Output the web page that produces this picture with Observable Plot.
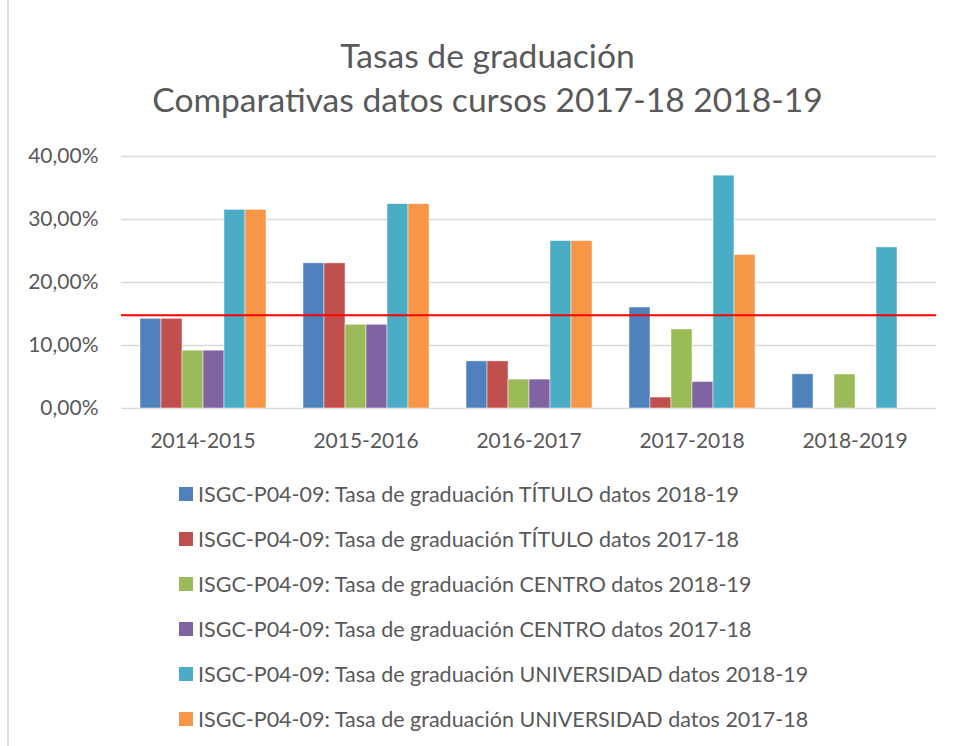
<!DOCTYPE html>
<html>
<head>
<meta charset="utf-8">
<script src="https://cdn.jsdelivr.net/npm/d3@7"></script>
<script src="https://cdn.jsdelivr.net/npm/@observablehq/plot@0.6"></script>
<style>
  html, body { margin: 0; padding: 0; background: #fff; }
  #page { position: relative; width: 953px; height: 746px; overflow: hidden; font-family: Lato, "Open Sans", sans-serif; color: #595959; }
  #border { position: absolute; left: 7px; top: 0; width: 2px; height: 746px; background: #dcdcdc; }
  #title { position: absolute; left: 0; top: 33px; width: 975px; text-align: center; font-size: 33.6px; line-height: 44.4px; }
  #chart { position: absolute; left: 0; top: 130px; }
  #legend { position: absolute; left: 0; top: 0; }
  .row { position: absolute; left: 179px; height: 24px; display: flex; align-items: center; font-size: 21.5px; white-space: nowrap; }
  .sw { width: 14px; height: 14px; margin-right: 5px; flex: none; }
</style>
</head>
<body>
<div id="page">
  <div id="border"></div>
  <div id="title"></div>
  <div id="chart"></div>
  <div id="legend"></div>
</div>
<script>
const titleLines = ["Tasas de graduación", "Comparativas datos cursos 2017-18 2018-19"];
const categories = ["2014-2015", "2015-2016", "2016-2017", "2017-2018", "2018-2019"];
const seriesNames = [
  "ISGC-P04-09: Tasa de graduación TÍTULO datos 2018-19",
  "ISGC-P04-09: Tasa de graduación TÍTULO datos 2017-18",
  "ISGC-P04-09: Tasa de graduación CENTRO datos 2018-19",
  "ISGC-P04-09: Tasa de graduación CENTRO datos 2017-18",
  "ISGC-P04-09: Tasa de graduación UNIVERSIDAD datos 2018-19",
  "ISGC-P04-09: Tasa de graduación UNIVERSIDAD datos 2017-18"
];
const seriesColors = ["#4f81bd", "#c0504d", "#9bbb59", "#8064a2", "#4bacc6", "#f79646"];
const tituloDatos1819 = [14.24, 23.04, 7.48, 16.03, 5.43];
const tituloDatos1718 = [14.24, 23.04, 7.48, 1.74, null];
const centroDatos1819 = [9.18, 13.29, 4.59, 12.55, 5.40];
const centroDatos1718 = [9.18, 13.29, 4.59, 4.20, null];
const univDatos1819 = [31.53, 32.44, 26.58, 36.96, 25.57];
const univDatos1718 = [31.53, 32.44, 26.58, 24.37, null];
const referenceLine = [14.8];
const yTicks = [0, 10, 20, 30, 40];

const seriesValues = [tituloDatos1819, tituloDatos1718, centroDatos1819, centroDatos1718, univDatos1819, univDatos1718];
const rows = categories.flatMap((cat, i) =>
  seriesNames.map((s, j) => ({cat, series: s, value: seriesValues[j][i]}))
).filter(d => d.value != null);

document.getElementById("title").innerHTML = titleLines.map(t => `<div>${t}</div>`).join("");

const fmt = d => d.toFixed(2).replace(".", ",") + "%";

const chart = Plot.plot({
  width: 953,
  height: 330,
  marginTop: 26,
  marginBottom: 52,
  marginLeft: 119,
  marginRight: 15,
  style: {fontFamily: "Lato, 'Open Sans', sans-serif", fontSize: "21px", color: "#595959", background: "transparent"},
  facet: {data: rows, x: "cat"},
  fx: {domain: categories, padding: 0, label: null, tickSize: 0, tickPadding: 25, axis: "bottom"},
  x: {domain: seriesNames, paddingInner: 0, paddingOuter: 0.73, axis: null},
  y: {domain: [0, 40], ticks: yTicks, tickFormat: fmt, label: null, tickSize: 0, tickPadding: 23},
  color: {domain: seriesNames, range: seriesColors},
  marks: [
    Plot.ruleY(yTicks, {stroke: "#d9d9d9", strokeWidth: 1.3}),
    Plot.barY(rows, {x: "series", y: "value", fill: "series", stroke: "#ffffff", strokeOpacity: 0.6, strokeWidth: 0.8}),
    Plot.ruleY(referenceLine, {stroke: "#ff0000", strokeWidth: 2})
  ]
});
document.getElementById("chart").appendChild(chart);

const legend = document.getElementById("legend");
seriesNames.forEach((s, i) => {
  const row = document.createElement("div");
  row.className = "row";
  row.style.top = (494 + 45 * i - 12) + "px";
  row.innerHTML = `<span class="sw" style="background:${seriesColors[i]}"></span><span>${s}</span>`;
  legend.appendChild(row);
});
</script>
</body>
</html>
